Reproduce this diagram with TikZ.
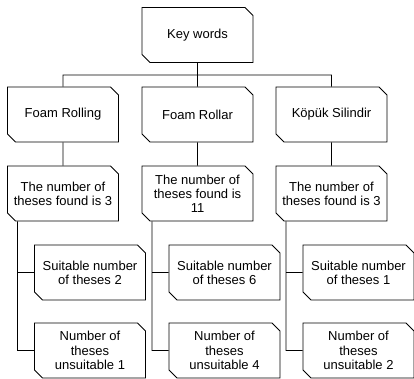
\documentclass[tikz,border=0pt]{standalone}
\usepackage{fontspec}
\setmainfont{Liberation Sans}
\usetikzlibrary{shapes.misc}

\tikzset{
    cbox/.style={draw, line width=0.8pt, fill=white,
        chamfered rectangle, chamfered rectangle corners={north east, south west},
        chamfered rectangle xsep=4pt, chamfered rectangle ysep=4pt,
        minimum width=111pt, minimum height=55pt, inner sep=1pt,
        align=center, font=\fontsize{13}{14.2}\selectfont},
    link/.style={line width=0.8pt}
}

\begin{document}
\begin{tikzpicture}[x=1pt, y=-1pt]

    \def\off{27}        % Shift of the lowest boxes to the right of their column
    \def\stem{45.5}     % Stem of the lowest boxes, left of the column centre

    \useasboundingbox (0,0) rectangle (414,379);

    \node[cbox] (kw) at (197.5,35) {Key words};
    \coordinate (bus) at (197.5,75);
    \draw[link] (kw) -- (bus);

    \foreach \n/\x/\term/\found/\ok/\no in {
        1/63/{Foam Rolling}/{ 3}/2/1,
        2/197.5/{Foam Rollar}/{\\11}/6/4,
        3/331.5/{Köpük Silindir}/{ 3}/1/2%
    }{
        \node[cbox] (kr\n) at (\x,114.5) {\term};
        \node[cbox] (th\n) at (\x,193.5) {The number of\\theses found is\found};
        \node[cbox] (ok\n) at (\x+\off,272.5) {Suitable number\\of theses \ok};
        \node[cbox] (no\n) at (\x+\off,350.5) {Number of\\theses\\unsuitable \no};

        \draw[link]
            (bus) -| (kr\n.north)
            (kr\n) -- (th\n)
            ([xshift=-\stem pt]th\n.south) |- (ok\n.west)     % Stem runs down the left side of the column
            ([xshift=-\stem pt]th\n.south) |- (no\n.west)
        ;
    }

\end{tikzpicture}
\end{document}
